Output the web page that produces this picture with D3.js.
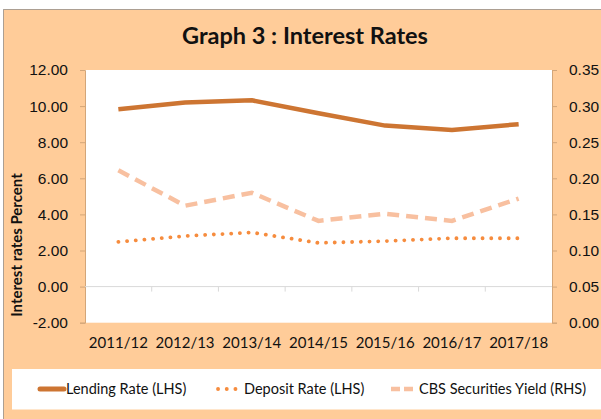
<!DOCTYPE html>
<html>
<head>
<meta charset="utf-8">
<script src="https://cdn.jsdelivr.net/npm/d3@7"></script>
<style>
  body { margin: 0; background: #fff; }
  svg { display: block; font-family: Lato, "Open Sans", sans-serif; }
</style>
</head>
<body>
<div id="chart"></div>
<script>
// data
var years = ["2011/12", "2012/13", "2013/14", "2014/15", "2015/16", "2016/17", "2017/18"];
var lendingRate = [9.82, 10.2, 10.32, 9.6, 8.92, 8.68, 9.0];
var depositRate = [2.48, 2.8, 3.0, 2.42, 2.52, 2.68, 2.68];
var cbsYield = [0.211, 0.162, 0.18, 0.141, 0.151, 0.141, 0.172];
var leftTicks = [-2, 0, 2, 4, 6, 8, 10, 12];
var rightTicks = [0, 0.05, 0.1, 0.15, 0.2, 0.25, 0.3, 0.35];

var W = 601, H = 419;
var margin = { top: 70, right: 49, bottom: 96.3, left: 85 };
var width = W - margin.left - margin.right;
var height = H - margin.top - margin.bottom;

// excel style: plain hyphen for negatives
var fmt = function(d) { return d.toFixed(2); };

var svg = d3.select("#chart").append("svg")
    .attr("width", W)
    .attr("height", H);

// outer chart frame (peach)
svg.append("rect")
    .attr("x", 3.5).attr("y", 9.5)
    .attr("width", W + 10).attr("height", H + 10)
    .attr("fill", "#ffcc99")
    .attr("stroke", "#595959")
    .attr("stroke-dasharray", "1,1");

svg.append("text")
    .attr("x", 305).attr("y", 44)
    .attr("text-anchor", "middle")
    .attr("font-size", 23.5)
    .attr("font-weight", "bold")
    .attr("fill", "#111")
    .text("Graph 3 : Interest Rates");

var g = svg.append("g")
    .attr("transform", "translate(" + margin.left + "," + margin.top + ")");

// plot area
g.append("rect")
    .attr("width", width).attr("height", height)
    .attr("fill", "#fff");

var x = d3.scaleBand().domain(years).range([0, width]);
var y = d3.scaleLinear().domain([-2, 12]).range([height, 0]);
var y2 = d3.scaleLinear().domain([0, 0.35]).range([height, 0]);

var axisColor = "#d3a679";

// left axis
var yAxis = g.append("g")
    .call(d3.axisLeft(y).tickValues(leftTicks).tickFormat(fmt).tickSize(5).tickPadding(12));
yAxis.select(".domain").attr("stroke", axisColor);
yAxis.selectAll(".tick line").attr("stroke", axisColor);
yAxis.selectAll("text").attr("font-size", 15.5).attr("fill", "#111");

// right axis
var yAxis2 = g.append("g")
    .attr("transform", "translate(" + width + ",0)")
    .call(d3.axisRight(y2).tickValues(rightTicks).tickFormat(fmt).tickSize(5).tickPadding(12));
yAxis2.select(".domain").attr("stroke", axisColor);
yAxis2.selectAll(".tick line").attr("stroke", axisColor);
yAxis2.selectAll("text").attr("font-size", 15.5).attr("fill", "#111");

// category axis sits on the zero line
g.append("line")
    .attr("x1", 0).attr("x2", width)
    .attr("y1", y(0)).attr("y2", y(0))
    .attr("stroke", "#d9d9d9");
g.selectAll(".xtick")
    .data(years.slice(1))
    .enter().append("line")
    .attr("class", "xtick")
    .attr("x1", function(d) { return x(d); })
    .attr("x2", function(d) { return x(d); })
    .attr("y1", y(0)).attr("y2", y(0) + 5)
    .attr("stroke", "#d9d9d9");

// year labels under the plot
g.selectAll(".xlabel")
    .data(years)
    .enter().append("text")
    .attr("class", "xlabel")
    .attr("x", function(d) { return x(d) + x.bandwidth() / 2; })
    .attr("y", height + 25)
    .attr("text-anchor", "middle")
    .attr("font-size", 15)
    .attr("fill", "#111")
    .text(function(d) { return d; });

svg.append("text")
    .attr("transform", "translate(22,245) rotate(-90)")
    .attr("text-anchor", "middle")
    .attr("font-size", 15)
    .attr("font-weight", "bold")
    .attr("fill", "#111")
    .text("Interest rates Percent");

var cx = function(i) { return x(years[i]) + x.bandwidth() / 2; };

var lineL = d3.line().x(function(d, i) { return cx(i); }).y(function(d) { return y(d); });
var lineR = d3.line().x(function(d, i) { return cx(i); }).y(function(d) { return y2(d); });

g.append("path")
    .datum(cbsYield)
    .attr("d", lineR)
    .attr("fill", "none")
    .attr("stroke", "#f8c0a0")
    .attr("stroke-width", 4.5)
    .attr("stroke-dasharray", "12,7");

g.append("path")
    .datum(depositRate)
    .attr("d", lineL)
    .attr("fill", "none")
    .attr("stroke", "#f68c3e")
    .attr("stroke-width", 3.8)
    .attr("stroke-linecap", "round")
    .attr("stroke-dasharray", "0.1,8.6");

g.append("path")
    .datum(lendingRate)
    .attr("d", lineL)
    .attr("fill", "none")
    .attr("stroke", "#cd7532")
    .attr("stroke-width", 4.5)
    .attr("stroke-linejoin", "round");

// legend
var legend = svg.append("g");
legend.append("rect")
    .attr("x", 12).attr("y", 369)
    .attr("width", W).attr("height", 40.5)
    .attr("fill", "#fff");

var legendItems = [
    { name: "Lending Rate (LHS)", x1: 40, x2: 64, tx: 66, color: "#cd7532", w: 5, dash: null, cap: "round" },
    { name: "Deposit Rate (LHS)", x1: 218, x2: 236, tx: 244, color: "#f68c3e", w: 3.8, dash: "0.1,8.6", cap: "round" },
    { name: "CBS Securities Yield (RHS)", x1: 391, x2: 413, tx: 419, color: "#f8c0a0", w: 4.5, dash: "9,4", cap: "butt" }
];
legendItems.forEach(function(d) {
    legend.append("line")
        .attr("x1", d.x1).attr("x2", d.x2)
        .attr("y1", 389).attr("y2", 389)
        .attr("stroke", d.color)
        .attr("stroke-width", d.w)
        .attr("stroke-linecap", d.cap)
        .attr("stroke-dasharray", d.dash);
    legend.append("text")
        .attr("x", d.tx).attr("y", 394)
        .attr("font-size", 14.5)
        .attr("fill", "#111")
        .text(d.name);
});
</script>
</body>
</html>
